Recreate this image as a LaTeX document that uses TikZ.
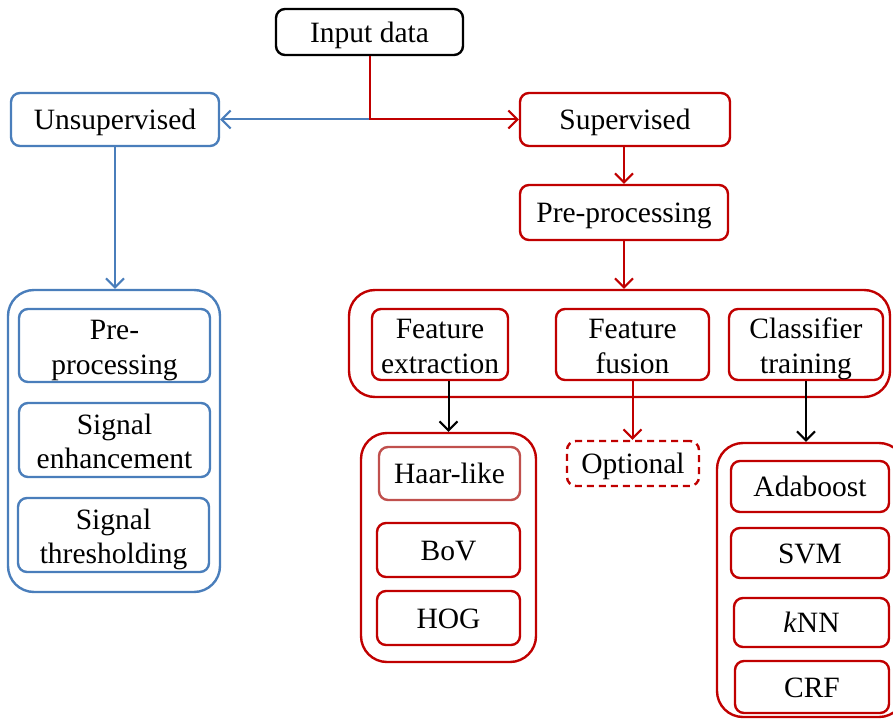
\documentclass[tikz,border=0pt]{standalone}
\usepackage{fontspec}
\setmainfont{Liberation Serif}
\usetikzlibrary{arrows.meta}
\definecolor{cred}{HTML}{C00000}
\definecolor{cblue}{HTML}{4A7EBB}
\definecolor{chaar}{HTML}{C0504D}
\newcommand\twoln[2]{\begin{tabular}[t]{@{}c@{}}#1\\#2\end{tabular}}
\begin{document}
\begin{tikzpicture}[x=1pt,y=-1pt,
  every node/.style={font=\fontsize{29.5}{34.5}\selectfont, inner sep=0pt, text height=21pt, text depth=0.5pt},
  two/.style={text height=0pt, text depth=12pt},
  bx/.style={draw, line width=2.4pt, rounded corners=9pt},
  redbx/.style={bx, draw=cred},
  bluebx/.style={bx, draw=cblue},
  cont/.style={draw, line width=2.4pt, rounded corners=26pt},
  arr/.style={line width=2pt, -{Straight Barb[length=9pt,width=18pt,line width=2pt]}}]
\useasboundingbox (0,0) rectangle (893,719);
% top
\node[bx, draw=black, minimum width=187, minimum height=46] (in) at (369.5,32) {Input data};
\node[bluebx, minimum width=208, minimum height=53] (uns) at (115,119.5) {Unsupervised};
\node[redbx, minimum width=210, minimum height=53] (sup) at (625,119.5) {Supervised};
\node[redbx, minimum width=208, minimum height=55] (pre) at (624,212.5) {Pre-processing};
% supervised container
\node[cont, draw=cred, minimum width=541, minimum height=107] (big) at (619.5,343.5) {};
\node[redbx, two, minimum width=136, minimum height=71] (fe) at (440,344.5) {\twoln{Feature}{extraction}};
\node[redbx, two, minimum width=153, minimum height=71] (ff) at (632.5,344.5) {\twoln{Feature}{fusion}};
\node[redbx, two, minimum width=154, minimum height=71] (ct) at (806,344.5) {\twoln{Classifier}{training}};
\node[redbx, dashed, dash pattern=on 7pt off 5pt, minimum width=132, minimum height=45] (opt) at (633,463.5) {Optional};
% feature container
\node[cont, draw=cred, minimum width=175, minimum height=229] (hc) at (448.5,547.5) {};
\node[bx, draw=chaar, minimum width=141, minimum height=53] (haar) at (449.5,473.5) {Haar-like};
\node[redbx, minimum width=143, minimum height=54] (bov) at (448.5,550) {BoV};
\node[redbx, minimum width=143, minimum height=54] (hog) at (448.5,618) {HOG};
% classifier container
\node[cont, draw=cred, minimum width=188, minimum height=274] (rc) at (811,580) {};
\node[redbx, minimum width=158, minimum height=51] (ada) at (810,486.5) {Adaboost};
\node[redbx, minimum width=158, minimum height=50] (svm) at (810,553) {SVM};
\node[redbx, minimum width=155, minimum height=49] (knn) at (811.5,622.5) {\textit{k}NN};
\node[redbx, minimum width=154, minimum height=52] (crf) at (812,687) {CRF};
% unsupervised container
\node[cont, draw=cblue, minimum width=212, minimum height=302] (lc) at (114,441) {};
\node[bluebx, two, minimum width=191, minimum height=73] (lp) at (114.5,345.5) {\twoln{Pre-}{processing}};
\node[bluebx, two, minimum width=191, minimum height=74] (le) at (114.5,440) {\twoln{Signal}{enhancement}};
\node[bluebx, two, minimum width=191, minimum height=74] (lt) at (113.5,535) {\twoln{Signal}{thresholding}};
% connectors
\coordinate (j) at (in.south |- uns.east);
\draw[arr, cblue] (j) -- (uns.east);
\draw[arr, cred] (in.south) |- (sup.west);
\draw[arr, cred] (pre.north |- sup.south) -- (pre.north);
\draw[arr, cred] (pre.south) -- (pre.south |- big.north);
\draw[arr, cblue] (uns.south) -- (uns.south |- lc.north);
\draw[arr, black] (hc.north |- fe.south) -- (hc.north);
\draw[arr, cred] (ff.south) -- (ff.south |- opt.north);
\draw[arr, black] (ct.south) -- (ct.south |- rc.north);
\end{tikzpicture}
\end{document}
